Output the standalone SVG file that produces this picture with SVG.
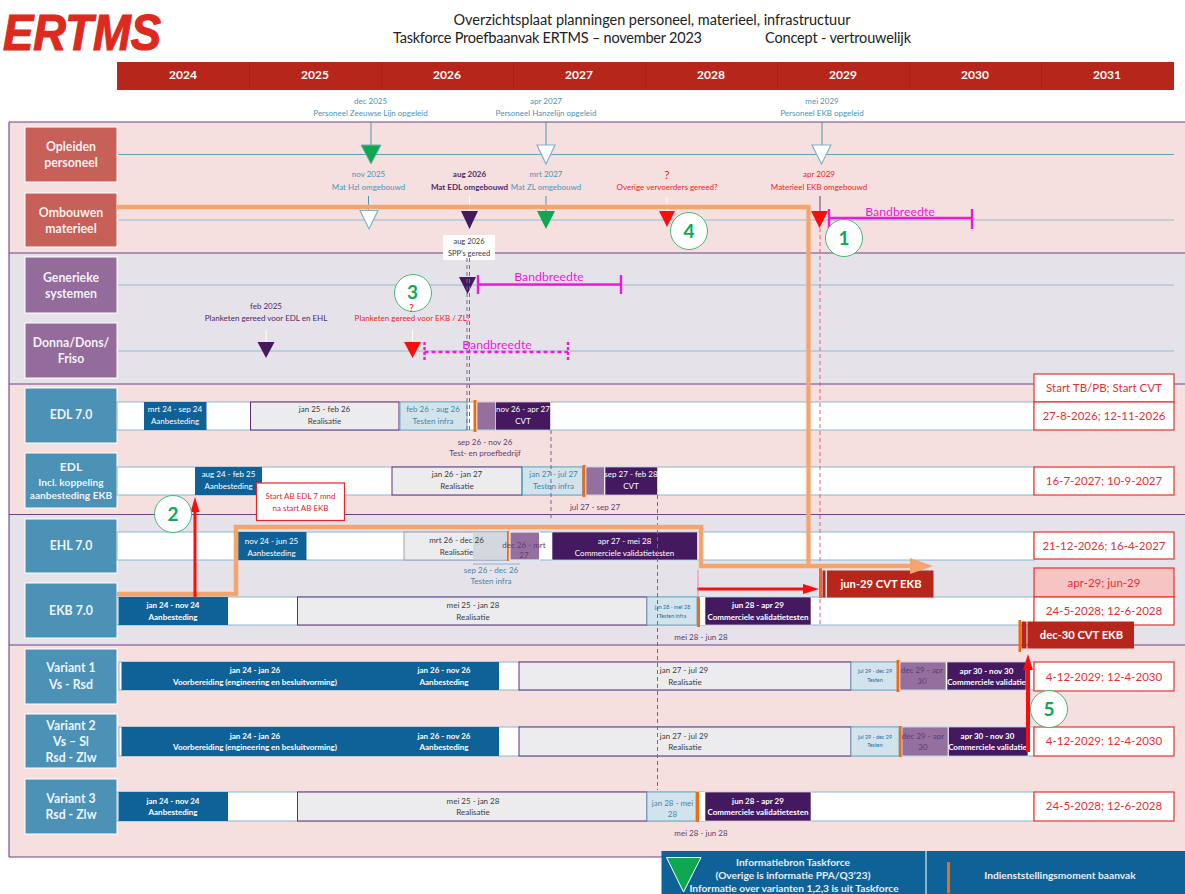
<svg xmlns="http://www.w3.org/2000/svg" width="1185" height="894" viewBox="0 0 1185 894">
<defs>
<style>
text{font-family:Lato,"Liberation Sans",sans-serif;text-anchor:middle}
.box-r{fill:#c8605a;stroke:#fff;stroke-width:1}
.box-p{fill:#936c9b;stroke:#fff;stroke-width:1}
.box-b{fill:#4b92b6;stroke:#fff;stroke-width:1}
.nl{fill:#fff;font-size:12.300px;font-weight:700;fill-opacity:.92}
.nm{fill:#fff;font-size:10.200px;font-weight:700;fill-opacity:.92}
.row{fill:#fff;stroke:#86b8cd;stroke-width:1}
.blue{fill:#0f6298}
.gray{fill:#ececee;stroke:#5b2e7c;stroke-width:1}
.test{fill:#d3e3ec;stroke:#6ea9c4;stroke-width:1}
.pur{fill:#956f9e;stroke:#fff;stroke-width:.6}
.dark{fill:#44195f;stroke:#fff;stroke-width:.6}
.or{fill:#f56a0c}
.res{fill:#fff;stroke:#e8332e;stroke-width:1.2}
.rt{fill:#e62f35;font-size:11.500px}
.w{fill:#fff;font-size:8px}
.k{fill:#3c3c3c;font-size:8px}
.tb{fill:#3f88ab;font-size:8px}
.p{fill:#5d4070;font-size:8px}
.s{font-size:5.400px}
.ml{fill:#4a94b0;font-size:8px}
.mp{fill:#4d2a68;font-size:8px}
.mr{fill:#f01a1a;font-size:8px}
.tl{stroke:#5fa3ba;stroke-width:1;fill:none}
.tl2{stroke:#93bccb;stroke-width:1.2;fill:none}
.tw{fill:#fff;stroke:#7fb2c8;stroke-width:1.2}
.tg{fill:#0fa851;stroke:#6fb3b0;stroke-width:1}
.td{fill:#44195f}
.tr{fill:#fb0d0d}
.stem{stroke:#4f93ad;stroke-width:1;fill:none}
.oh{fill:none;stroke:#f4a46e;stroke-width:4;stroke-linejoin:miter}
.ha{fill:none;stroke:#f7b68a;stroke-width:6;stroke-opacity:.35}
.dash{fill:none;stroke:#7a6590;stroke-width:1;stroke-dasharray:4 3}
.band{fill:none;stroke:#f018dc;stroke-width:2.4}
.bt{fill:#f018dc;font-size:12.300px}
.cir{fill:#fff;stroke:#45b878;stroke-width:1}
.ct{fill:#0fa851;font-size:19px;font-weight:700}
.cv{fill:#fff;font-size:11.200px;font-weight:700}
.lg{fill:#e8eef3;font-size:10.200px;font-weight:700}
</style>
</defs>
<rect width="1185" height="894" fill="#fff"/>
<g id="header">
<text x="82" y="49.500" textLength="158" lengthAdjust="spacingAndGlyphs" style="font-family:'Liberation Sans',sans-serif;font-size:50px;font-weight:700;font-style:italic;fill:#dc2a1e;stroke:#dc2a1e;stroke-width:1.200">ERTMS</text>
<text x="652" y="25" textLength="397" style="font-size:14.500px;fill:#222">Overzichtsplaat planningen personeel, materieel, infrastructuur</text>
<text x="547.500" y="43" textLength="309" style="font-size:14.500px;fill:#222">Taskforce Proefbaanvak ERTMS – november 2023</text>
<text x="838" y="43" textLength="146" style="font-size:14.500px;fill:#222">Concept - vertrouwelijk</text>
<rect x="117" y="62" width="1057" height="28" fill="#b7261a"/>
<path d="M249.500 62V90M381.500 62V90M513.500 62V90M645.500 62V90M777.500 62V90M909.500 62V90M1041.500 62V90" stroke="#a52015" stroke-width="1"/>
<g style="font-size:12px;font-weight:700">
<text x="183" y="79" fill="#fff">2024</text><text x="315" y="79" fill="#fff">2025</text><text x="447" y="79" fill="#fff">2026</text><text x="579" y="79" fill="#fff">2027</text><text x="711" y="79" fill="#fff">2028</text><text x="843" y="79" fill="#fff">2029</text><text x="975" y="79" fill="#fff">2030</text><text x="1107" y="79" fill="#fff">2031</text>
</g>
</g>
<g id="bands">
<rect x="9" y="122" width="1176" height="131" fill="#f6e0df"/>
<rect x="9" y="253" width="1176" height="131" fill="#e6e2ea"/>
<rect x="9" y="384" width="1176" height="130.500" fill="#f6e0df"/>
<rect x="9" y="514.500" width="1176" height="130.500" fill="#e6e2ea"/>
<rect x="9" y="645" width="1176" height="212" fill="#f6e0df"/>
<path d="M9 122H1185M9 253H1185M9 384H1185M9 514.500H1185M9 645H1185M9 857H1185M9 122V857" fill="none" stroke="#6b4388" stroke-width="1.100"/>
</g>
<g id="opleiden-personeel">
<rect class="box-r" x="25" y="127" width="92" height="55"/>
<text class="nl" x="71" y="151">Opleiden</text><text class="nl" x="71" y="167">personeel</text>
<path class="tl" d="M118 154.500H1174"/>
<path class="stem" d="M371 122V146M546 122V146M822 122V146"/>
<polygon class="tg" points="361,145 381,145 371,164"/>
<polygon class="tw" points="537,145 555,145 546,164"/>
<polygon class="tw" points="812,145 831,145 821.500,164"/>
<text class="ml" x="370.500" y="104">dec 2025</text><text class="ml" x="370.500" y="116">Personeel Zeeuwse Lijn opgeleid</text>
<text class="ml" x="546" y="104">apr 2027</text><text class="ml" x="546" y="116">Personeel Hanzelijn opgeleid</text>
<text class="ml" x="822" y="104">mei 2029</text><text class="ml" x="822" y="116">Personeel EKB opgeleid</text>
</g>
<g id="ombouwen-materieel">
<rect class="box-r" x="25" y="193" width="92" height="54"/>
<text class="nl" x="71" y="217">Ombouwen</text><text class="nl" x="71" y="233">materieel</text>
<path class="tl2" d="M118 220H1174"/>
<path class="stem" d="M368.500 196V211M546 196V211"/>
<path d="M469.500 196V211M667 197V211" stroke="#fff" fill="none"/>
<path d="M820 196V212" stroke="#5d4070" fill="none"/>
<polygon class="tw" points="360,210.500 378,210.500 369,229"/>
<polygon class="td" points="461,211 478,211 469.500,229"/>
<polygon class="tg" points="537,211 555,211 546,229" style="stroke:none"/>
<polygon class="tr" points="659,211 675,211 667,227"/>
<polygon class="tr" points="811,211 828,211 819.500,228"/>
<text class="ml" x="368.500" y="177">nov 2025</text><text class="ml" x="368.500" y="190">Mat Hzl omgebouwd</text>
<text class="mp" x="469.500" y="177" font-weight="700">aug 2026</text><text class="mp" x="469.500" y="190" font-weight="700">Mat EDL omgebouwd</text>
<text class="ml" x="546" y="177">mrt 2027</text><text class="ml" x="546" y="190">Mat ZL omgebouwd</text>
<text class="mr" x="667" y="179" style="font-size:12px">?</text><text class="mr" x="667" y="190">Overige vervoerders gereed?</text>
<text class="mr" x="819" y="177">apr 2029</text><text class="mr" x="819" y="190">Materieel EKB omgebouwd</text>
</g>
<g id="generieke-systemen">
<rect class="box-p" x="25" y="257" width="92" height="56"/>
<text class="nl" x="71" y="282">Generieke</text><text class="nl" x="71" y="298">systemen</text>
<path class="tl2" d="M118 285H1174"/>
<polygon class="td" points="459,277 476,277 467.500,294"/>
<rect x="443" y="235" width="52" height="25" fill="#fff"/>
<text class="k" x="469" y="244" style="font-size:7.500px">aug 2026</text><text class="k" x="469" y="256" style="font-size:7.500px">SPP’s gereed</text>
</g>
<g id="donna-dons-friso">
<rect class="box-p" x="25" y="323" width="92" height="55"/>
<text class="nl" x="71" y="347">Donna/Dons/</text><text class="nl" x="71" y="363">Friso</text>
<path class="tl2" d="M118 351H1174"/>
<path d="M266 330V342M412.500 330V342" stroke="#fff" fill="none"/>
<polygon class="td" points="257.500,342 274.500,342 266,358"/>
<polygon class="tr" points="404,342 421,342 412.500,358"/>
<text class="mp" x="266" y="309">feb 2025</text><text class="mp" x="266" y="321">Planketen gereed voor EDL en EHL</text>
<text class="mr" x="412.500" y="321">Planketen gereed voor EKB / ZL?</text>
</g>
<g id="edl-7">
<rect class="box-b" x="25" y="388" width="92" height="55"/>
<text class="nl" x="71" y="419">EDL 7.0</text>
<rect class="row" x="117" y="402" width="917" height="28"/>
<rect class="blue" x="144" y="402" width="62.500" height="28"/>
<text class="w" x="175" y="412">mrt 24 - sep 24</text><text class="w" x="175" y="424">Aanbesteding</text>
<rect class="gray" x="250.500" y="402" width="148.500" height="28"/>
<text class="k" x="324.500" y="412">jan 25 - feb 26</text><text class="k" x="324.500" y="424">Realisatie</text>
<rect class="test" x="400" y="402" width="67" height="28"/>
<text class="tb" x="433" y="412">feb 26 - aug 26</text><text class="tb" x="433" y="424">Testen infra</text>
<rect class="or" x="473.500" y="400" width="3" height="32"/>
<rect class="pur" x="477" y="402" width="19" height="28"/>
<rect class="dark" x="495.500" y="402" width="55" height="28"/>
<text class="w" x="523" y="412">nov 26 - apr 27</text><text class="w" x="523" y="424">CVT</text>
<text class="p" x="485" y="445">sep 26 - nov 26</text><text class="p" x="485" y="456">Test- en proefbedrijf</text>
<rect class="res" x="1034" y="374" width="140" height="28"/>
<text class="rt" x="1104" y="392">Start TB/PB; Start CVT</text>
<rect class="res" x="1034" y="402" width="140" height="28"/>
<text class="rt" x="1104" y="420">27-8-2026; 12-11-2026</text>
</g>
<g id="edl-koppeling">
<rect class="box-b" x="25" y="453" width="92" height="55"/>
<text class="nm" x="71" y="471" style="font-size:12px">EDL</text><text class="nm" x="71" y="485.500">Incl. koppeling</text><text class="nm" x="71" y="499">aanbesteding EKB</text>
<rect class="row" x="117" y="467" width="917" height="28"/>
<rect class="blue" x="195" y="467" width="67" height="28"/>
<text class="w" x="228.500" y="477">aug 24 - feb 25</text><text class="w" x="228.500" y="489">Aanbesteding</text>
<rect class="gray" x="392" y="467" width="130" height="28"/>
<text class="k" x="457" y="477">jan 26 - jan 27</text><text class="k" x="457" y="489">Realisatie</text>
<rect class="test" x="522.500" y="467" width="60" height="28"/>
<text class="tb" x="553.500" y="477">jan 27 - jul 27</text><text class="tb" x="553.500" y="489">Testen infra</text>
<rect class="or" x="582.500" y="465" width="3" height="32"/>
<rect class="pur" x="586" y="467" width="18.500" height="28"/>
<rect class="dark" x="605" y="467" width="52.500" height="28"/>
<text class="w" x="631" y="477">sep 27 - feb 28</text><text class="w" x="631" y="489">CVT</text>
<text class="p" x="595" y="510">jul 27 - sep 27</text>
<rect class="res" x="1034" y="467" width="140" height="28"/>
<text class="rt" x="1104" y="485">16-7-2027; 10-9-2027</text>
</g>
<g id="ehl-7">
<rect class="box-b" x="25" y="519" width="92" height="54"/>
<text class="nl" x="71" y="550">EHL 7.0</text>
<rect class="row" x="117" y="532" width="917" height="28"/>
<rect class="blue" x="237" y="532" width="69.500" height="28"/>
<text class="w" x="271.500" y="544">nov 24 - jun 25</text><text class="w" x="271.500" y="556">Aanbesteding</text>
<rect class="gray" x="404" y="532" width="103" height="28" style="stroke:#a89ab5"/>
<rect x="473" y="532.500" width="34" height="27" fill="#d2d8de"/>
<text class="k" x="456.500" y="543">mrt 26 - dec 26</text><text class="k" x="456.500" y="555">Realisatie</text>
<rect class="or" x="507" y="531" width="1.800" height="30"/>
<rect x="510" y="532" width="29.500" height="28" fill="#956f9e" stroke="#fff" stroke-width="1"/>
<text class="p" x="524" y="548">dec 26 - mrt</text><text class="p" x="524" y="558">27</text>
<rect class="dark" x="552" y="532" width="145.500" height="28"/>
<text class="w" x="624.500" y="544">apr 27 - mei 28</text><text class="w" x="624.500" y="556">Commerciele validatietesten</text>
<path d="M473 564H520" stroke="#86b8cd" fill="none"/>
<text class="tb" x="491" y="573">sep 26 - dec 26</text><text class="tb" x="491" y="584">Testen infra</text>
<rect class="res" x="1034" y="532" width="140" height="27"/>
<text class="rt" x="1104" y="550">21-12-2026; 16-4-2027</text>
</g>
<g id="ekb-7">
<rect class="box-b" x="25" y="583" width="92" height="55"/>
<text class="nl" x="71" y="615">EKB 7.0</text>
<rect class="row" x="117" y="597" width="917" height="28"/>
<rect class="blue" x="118.500" y="597" width="109.500" height="28"/>
<text class="w" x="173" y="608" font-weight="700">jan 24 - nov 24</text><text class="w" x="173" y="620" font-weight="700">Aanbesteding</text>
<rect class="gray" x="297.500" y="597" width="349.500" height="28"/>
<text class="k" x="473" y="608">mei 25 - jan 28</text><text class="k" x="473" y="620">Realisatie</text>
<rect class="test" x="647" y="597" width="50" height="28"/>
<text class="tb s" x="672.500" y="609" style="fill:#1f6f9c">jan 28 - mei 28</text><text class="tb s" x="672.500" y="618" style="fill:#1f6f9c">Testen infra</text>
<rect class="or" x="697" y="597" width="3" height="30"/>
<rect x="700" y="597" width="5" height="28" fill="#fff"/>
<rect class="dark" x="705" y="597" width="106" height="28"/>
<text class="w" x="758" y="608" font-weight="700">jun 28 - apr 29</text><text class="w" x="758" y="620" font-weight="700">Commerciele validatietesten</text>
<text class="p" x="701" y="640">mei 28 - jun 28</text>
<rect class="or" x="819" y="568" width="3" height="30"/>
<rect x="822.500" y="570.500" width="3" height="27" fill="#b7261a"/>
<rect x="827" y="570.500" width="106.500" height="27" fill="#b7261a"/>
<text class="cv" x="881" y="588">jun-29 CVT EKB</text>
<rect x="1034" y="568" width="140" height="29" fill="#f6c4c2" stroke="#e8332e" stroke-width="1.200"/>
<text class="rt" x="1104" y="586.500">apr-29; jun-29</text>
<rect class="res" x="1034" y="597" width="140" height="28"/>
<text class="rt" x="1104" y="615">24-5-2028; 12-6-2028</text>
<rect class="or" x="1018.500" y="620" width="2.500" height="32"/>
<rect x="1021.500" y="621.500" width="5" height="27" fill="#b7261a"/>
<rect x="1027.500" y="621.500" width="106.500" height="27" fill="#b7261a"/>
<text class="cv" x="1081.500" y="639">dec-30 CVT EKB</text>
</g>
<g id="variant-1">
<rect class="box-b" x="25" y="649" width="92" height="55"/>
<text class="nl" x="71" y="672">Variant 1</text><text class="nl" x="71" y="689">Vs - Rsd</text>
<rect class="row" x="119" y="662" width="915" height="28"/>
<rect class="blue" x="121.500" y="662" width="377.500" height="28"/>
<text class="w" x="255" y="673" font-weight="700">jan 24 - jan 26</text><text class="w" x="255" y="685" font-weight="700">Voorbereiding (engineering en besluitvorming)</text>
<text class="w" x="444" y="673" font-weight="700">jan 26 - nov 26</text><text class="w" x="444" y="685" font-weight="700">Aanbesteding</text>
<rect class="gray" x="519" y="662" width="332" height="28"/>
<text class="k" x="684" y="673">jan 27 - jul 29</text><text class="k" x="685" y="685">Realisatie</text>
<rect class="test" x="851" y="662" width="47" height="28"/>
<text class="tb s" x="875" y="673" style="fill:#1f6f9c">jul 29 - dec 29</text><text class="tb s" x="875" y="682" style="fill:#1f6f9c">Testen</text>
<rect class="or" x="896.500" y="660" width="3" height="32"/>
<rect class="pur" x="900" y="662" width="46" height="28"/>
<text class="p" x="922" y="673">dec 29 - apr</text><text class="p" x="922" y="684">30</text>
<rect class="dark" x="947" y="662" width="79" height="28"/>
<text class="w" x="986.500" y="674" font-weight="700">apr 30 - nov 30</text><text class="w" x="986.500" y="685" font-weight="700">Commerciele validatie</text>
<rect class="res" x="1034" y="662" width="140" height="29"/>
<text class="rt" x="1104" y="681">4-12-2029; 12-4-2030</text>
</g>
<g id="variant-2">
<rect class="box-b" x="25" y="714" width="92" height="54"/>
<text class="nl" x="71" y="730">Variant 2</text><text class="nl" x="71" y="746">Vs – Sl</text><text class="nl" x="71" y="762">Rsd - Zlw</text>
<rect class="row" x="119" y="727" width="915" height="29"/>
<rect class="blue" x="121.500" y="727" width="377.500" height="29"/>
<text class="w" x="255" y="739" font-weight="700">jan 24 - jan 26</text><text class="w" x="255" y="750" font-weight="700">Voorbereiding (engineering en besluitvorming)</text>
<text class="w" x="444" y="739" font-weight="700">jan 26 - nov 26</text><text class="w" x="444" y="750" font-weight="700">Aanbesteding</text>
<rect class="gray" x="519" y="727" width="332" height="29"/>
<text class="k" x="684" y="739">jan 27 - jul 29</text><text class="k" x="685" y="750">Realisatie</text>
<rect class="test" x="851" y="727" width="48" height="29"/>
<text class="tb s" x="875" y="739" style="fill:#1f6f9c">jul 29 - dec 29</text><text class="tb s" x="875" y="747" style="fill:#1f6f9c">Testen</text>
<rect class="or" x="899" y="726" width="3" height="31"/>
<rect class="pur" x="902" y="727" width="46" height="29"/>
<text class="p" x="923" y="739">dec 29 - apr</text><text class="p" x="923" y="750">30</text>
<rect class="dark" x="948.500" y="727" width="79.500" height="29"/>
<text class="w" x="987.500" y="739" font-weight="700">apr 30 - nov 30</text><text class="w" x="987.500" y="750" font-weight="700">Commerciele validatie</text>
<rect class="res" x="1034" y="727" width="140" height="29"/>
<text class="rt" x="1104" y="745">4-12-2029; 12-4-2030</text>
</g>
<g id="variant-3">
<rect class="box-b" x="25" y="779" width="92" height="55"/>
<text class="nl" x="71" y="803">Variant 3</text><text class="nl" x="71" y="819">Rsd - Zlw</text>
<rect class="row" x="117" y="792" width="917" height="29"/>
<rect class="blue" x="118.500" y="792" width="109.500" height="29"/>
<text class="w" x="173" y="804" font-weight="700">jan 24 - nov 24</text><text class="w" x="173" y="815" font-weight="700">Aanbesteding</text>
<rect class="gray" x="297.500" y="792" width="349.500" height="29"/>
<text class="k" x="473" y="804">mei 25 - jan 28</text><text class="k" x="473" y="815">Realisatie</text>
<rect class="test" x="647" y="792" width="49" height="29"/>
<text class="tb" x="672.500" y="806">jan 28 - mei</text><text class="tb" x="672.500" y="817">28</text>
<rect class="or" x="696" y="792" width="3" height="30"/>
<rect x="699" y="792" width="6" height="29" fill="#fff"/>
<rect class="dark" x="705" y="792" width="106" height="29"/>
<text class="w" x="758" y="804" font-weight="700">jun 28 - apr 29</text><text class="w" x="758" y="815" font-weight="700">Commerciele validatietesten</text>
<text class="p" x="701" y="836">mei 28 - jun 28</text>
<rect class="res" x="1034" y="792" width="140" height="29"/>
<text class="rt" x="1104" y="810">24-5-2028; 12-6-2028</text>
</g>
<g id="connectors">
<path class="dash" d="M467 258V430M469.500 258V430"/>
<path class="dash" d="M551 430V520"/>
<path class="dash" d="M657.500 495V790"/>
<path d="M820 228V625" fill="none" stroke="#ef5a78" stroke-width="1" stroke-dasharray="4 3"/>
<path class="ha" d="M117 207H808.500V566"/>
<path class="oh" d="M117 207H808.500V566"/>
<path class="ha" d="M117 594H236V527H701V566H920"/>
<path class="oh" d="M117 594H236V527H701V566H920"/>
<polygon points="910,558 933,566 910,574" fill="#f4a46e"/>
<path d="M195 598V510" stroke="#fb0d0d" stroke-width="3" fill="none"/>
<polygon points="190.500,512 199.500,512 195,497" fill="#fb0d0d"/>
<path d="M697 589H806" stroke="#fb0d0d" stroke-width="3" fill="none"/>
<polygon points="803,584 819,589 803,594" fill="#fb0d0d"/>
<path d="M698 570V597" stroke="#e8899a" fill="none"/>
<path d="M1028 752V668" stroke="#fb0d0d" stroke-width="4" fill="none"/>
<polygon points="1023,670 1033,670 1028,654" fill="#fb0d0d"/>
</g>
<g id="bandbreedte">
<path class="band" d="M829 209V229M829 218H972M972 209V229"/>
<text class="bt" x="900" y="216">Bandbreedte</text>
<path class="band" d="M478 275V294M478 284.500H621M621 275V294"/>
<text class="bt" x="549" y="281">Bandbreedte</text>
<path class="band" d="M424.500 342V362M568 342V362" stroke-dasharray="3 2"/>
<path class="band" d="M424.500 352H568" stroke-dasharray="4 3"/>
<text class="bt" x="497" y="349">Bandbreedte</text>
</g>
<g id="markers">
<g id="marker-1"><circle class="cir" cx="844" cy="238" r="18.500"/><text class="ct" x="844" y="245">1</text></g>
<g id="marker-2"><circle class="cir" cx="173" cy="514" r="18.500"/><text class="ct" x="173" y="521">2</text></g>
<g id="marker-3"><circle class="cir" cx="413" cy="293" r="18.500"/><text class="ct" x="412.500" y="299">3</text><text class="mr" x="411.500" y="312" style="font-size:11px">?</text></g>
<g id="marker-4"><circle class="cir" cx="689" cy="231" r="18.500"/><text class="ct" x="689" y="238">4</text></g>
<g id="marker-5"><circle class="cir" cx="1049" cy="709" r="18.500"/><text class="ct" x="1049" y="716">5</text></g>
</g>
<g id="callout">
<rect x="256.500" y="483" width="88" height="37.500" fill="#fff" stroke="#e8232a" stroke-width="1.200"/>
<text class="mr" x="300.500" y="499" style="fill:#e8232a">Start AB EDL 7 mnd</text><text class="mr" x="300.500" y="511" style="fill:#e8232a">na start AB EKB</text>
</g>
<g id="legend">
<rect x="661.500" y="851" width="524" height="43" fill="#0f6298"/>
<path d="M926 851V894" stroke="#fff" stroke-width="1" fill="none"/>
<polygon points="666.500,857.500 701,857.500 683.500,892" fill="#0fa851" stroke="#fff" stroke-width="1"/>
<text class="lg" x="793" y="866">Informatiebron Taskforce</text>
<text class="lg" x="793" y="879">(Overige is informatie PPA/Q3’23)</text>
<text class="lg" x="794" y="892">Informatie over varianten 1,2,3 is uit Taskforce</text>
<rect class="or" x="947" y="862" width="3" height="31"/>
<text class="lg" x="1060" y="879">Indienststellingsmoment baanvak</text>
</g>
</svg>
